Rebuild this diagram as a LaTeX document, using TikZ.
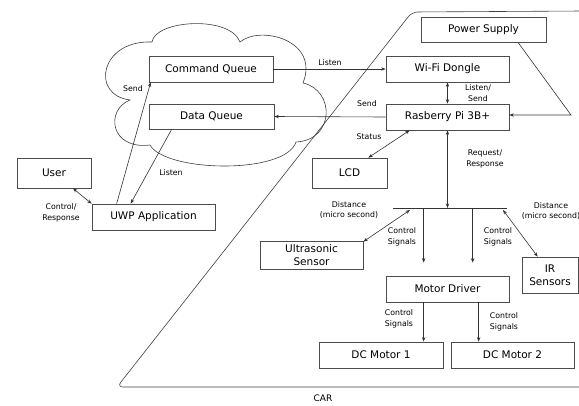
\documentclass[tikz,border=0pt]{standalone}
\usepackage{fontspec}
\setmainfont{DejaVu Sans}
\usetikzlibrary{arrows.meta,calc}
\begin{document}
\begin{tikzpicture}[x=1pt,y=1pt,
  blk/.style={draw=black!70,line width=0.7pt,inner sep=0pt,align=center,
    font=\fontsize{10.5}{13.5}\selectfont},
  lbl/.style={inner sep=0pt,align=center,font=\fontsize{7.8}{10.8}\selectfont},
  ln/.style={draw=black!80,line width=0.6pt},
  arr/.style={ln,-{Stealth[length=4.5pt,width=3.4pt]}},
  darr/.style={ln,{Stealth[length=4.5pt,width=3.4pt]}-{Stealth[length=4.5pt,width=3.4pt]}}]
\useasboundingbox (0,0) rectangle (579,-405);
\fill[white] (0,0) rectangle (579,-405);

% cloud
\draw[draw=black!75,line width=0.6pt] (130,-100)
  .. controls (90,-95) and (100,-40) .. (152,-42)
  .. controls (155,-20) and (230,-15) .. (240,-42)
  .. controls (260,-25) and (320,-40) .. (303,-83)
  .. controls (335,-90) and (335,-140) .. (296,-142)
  .. controls (285,-175) and (165,-172) .. (150,-145)
  .. controls (110,-150) and (105,-110) .. (130,-100) -- cycle;

% car outline
\draw[draw=black!75,line width=0.6pt,rounded corners=6pt]
  (582,-11) -- (412,-12) -- (117,-387) -- (582,-387);
\node[lbl,font=\fontsize{9}{11}\selectfont] (car) at (323,-398) {CAR};

% nodes
\node[blk,minimum width=124pt,minimum height=26pt] (cq) at (211,-69) {Command Queue};
\node[blk,minimum width=125pt,minimum height=25pt] (dq) at (211.5,-116.5) {Data Queue};
\node[blk,minimum width=74pt,minimum height=30pt] (user) at (54,-173) {User};
\node[blk,minimum width=123pt,minimum height=26pt] (uwp) at (153.5,-217) {UWP Application};
\node[blk,minimum width=125pt,minimum height=25pt] (ps) at (483.5,-29.5) {Power Supply};
\node[blk,minimum width=123pt,minimum height=26pt] (wifi) at (447.5,-69) {Wi-Fi Dongle};
\node[blk,minimum width=123pt,minimum height=26pt] (pi) at (447.5,-117) {Rasberry Pi 3B+};
\node[blk,minimum width=75pt,minimum height=30pt] (lcd) at (349.5,-173) {LCD};
\node[blk,minimum width=103pt,minimum height=28pt] (us) at (311.5,-255) {Ultrasonic\\Sensor};
\node[blk,minimum width=56pt,minimum height=36pt] (ir) at (550,-275) {IR\\Sensors};
\node[blk,minimum width=123pt,minimum height=26pt] (md) at (447.5,-289) {Motor Driver};
\node[blk,minimum width=124pt,minimum height=26pt] (m1) at (381,-355) {DC Motor 1};
\node[blk,minimum width=123pt,minimum height=26pt] (m2) at (512.5,-355) {DC Motor 2};

% helper coordinates
\coordinate (busL) at (393,-208);
\coordinate (busR) at (507,-208);
\coordinate (psbend) at (571,-115);
\coordinate (c1) at ($(md.north west)+(38,0)$);
\coordinate (c2) at ($(md.north west)+(87,0)$);
\coordinate (d1) at ($(md.south west)+(38,0)$);
\coordinate (d2) at ($(md.south west)+(93,0)$);

% connectors
\draw[darr] ($(user.south)+(19,0)$) -- (uwp.north west);
\draw[arr] ($(uwp.north west)+(25,0)$) -- ($(cq.south west)+(2,0)$);
\draw[arr] ($(dq.south west)+(23,0)$) -- ($(uwp.north west)+(39,0)$);
\draw[arr] (cq.east) -- (wifi.west);
\draw[arr] (pi.west) -- (dq.east);
\draw[darr] (wifi.south) -- (pi.north);
\draw[darr] ($(pi.south west)+(24,0)$) -- ($(lcd.north east)+(-19,0)$);
\draw[arr] ($(ps.south)+(34.5,0)$) -- (psbend) -- (psbend -| pi.east);
\draw[darr] (pi.south) -- (pi.south |- busL);
\draw[ln] (busL) -- (busR);
\draw[darr] ($(busL)+(17,-2)$) -- ($(us.north east)+(0,-1)$);
\draw[darr] ($(busR)+(-4,-2)$) -- ($(ir.north west)+(16,0)$);
\draw[arr,shorten >=13pt] (busL -| c1) -- (c1);
\draw[arr,shorten >=13pt] (busL -| c2) -- (c2);
\draw[arr] (d1) -- (d1 |- m1.north);
\draw[arr] (d2) -- (d2 |- m2.north);

% labels
\node[lbl] (l1) at (330,-63) {Listen};
\node[lbl] (l2) at (367,-104) {Send};
\node[lbl] (l3) at (478,-93) {Listen/\\Send};
\node[lbl] (l4) at (369,-137) {Status};
\node[lbl] (l5) at (133,-89) {Send};
\node[lbl] (l6) at (171,-173) {Listen};
\node[lbl] (l7) at (61,-213) {Control/\\Response};
\node[lbl] (l8) at (485,-159) {Request/\\Response};
\node[lbl] (l9) at (349,-210) {Distance\\(micro second)};
\node[lbl] (l10) at (551,-211) {Distance\\(micro second)};
\node[lbl] (l11) at (402,-237) {Control\\Signals};
\node[lbl] (l12) at (498,-237) {Control\\Signals};
\node[lbl] (l13) at (399,-319) {Control\\Signals};
\node[lbl] (l14) at (504,-322) {Control\\Signals};
\end{tikzpicture}
\end{document}
